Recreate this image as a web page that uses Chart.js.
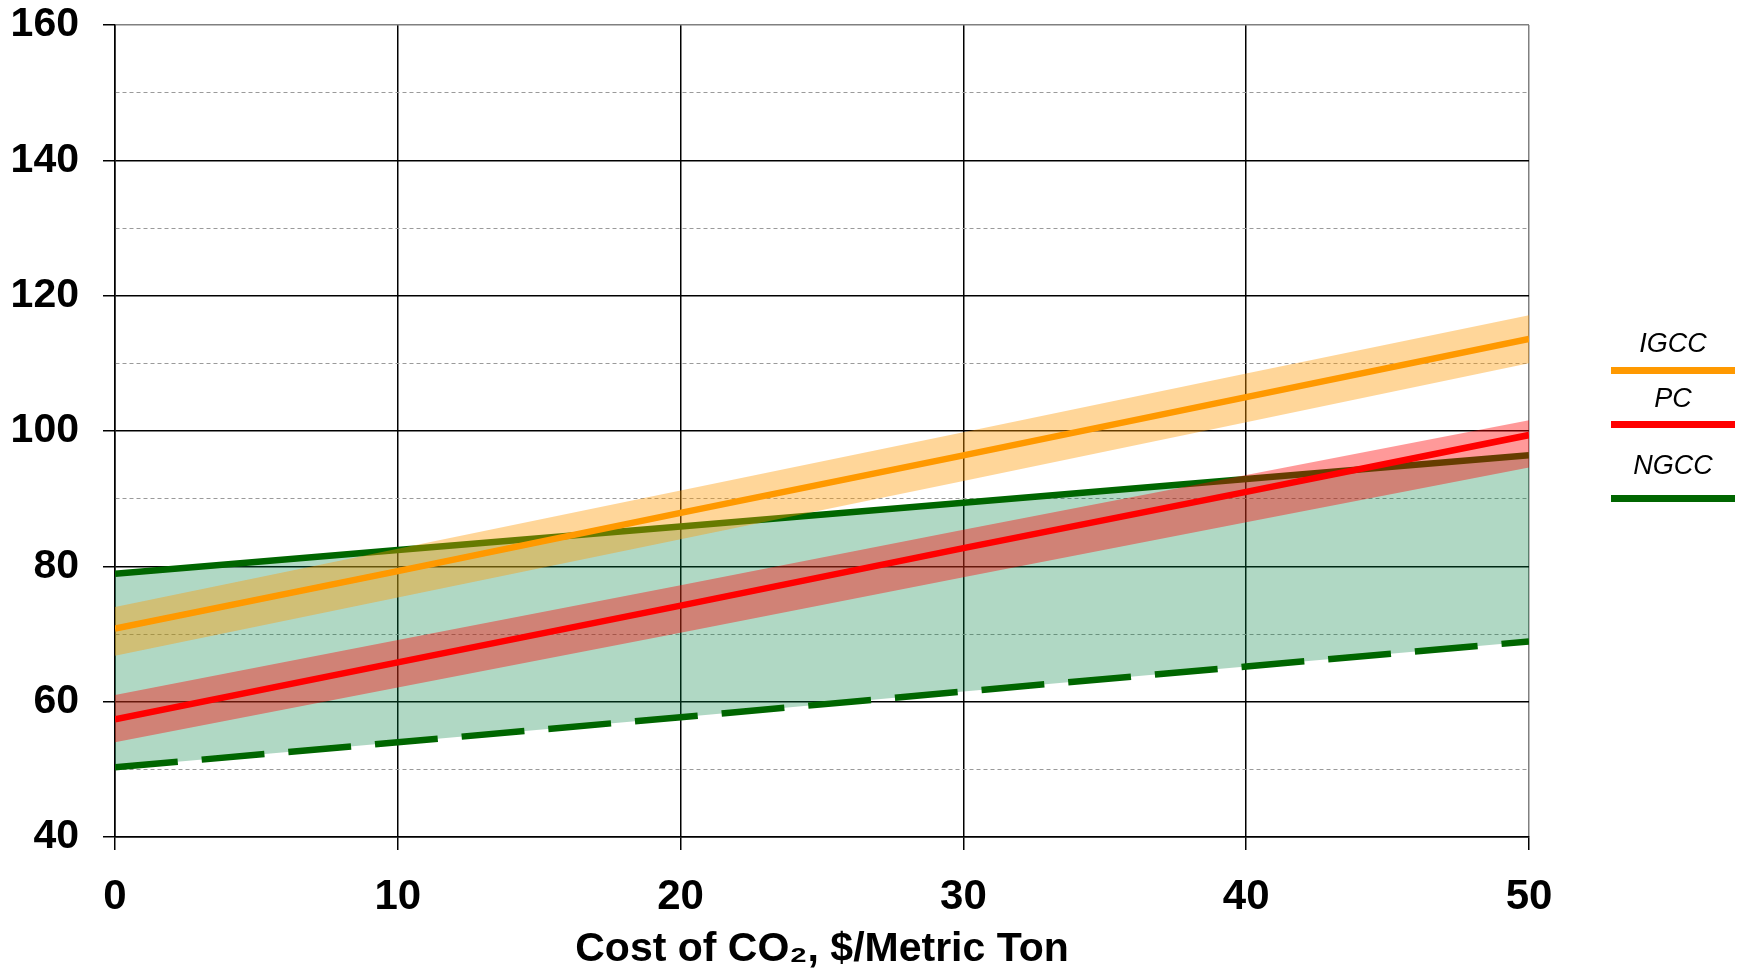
<!DOCTYPE html>
<html>
<head>
<meta charset="utf-8">
<title>Cost of CO2</title>
<script src="https://cdn.jsdelivr.net/npm/chart.js@4.4.0/dist/chart.umd.min.js"></script>
<style>
    html, body { margin: 0; padding: 0; background: #fff; }
    #wrap { position: relative; width: 1743px; height: 972px; }
    #legend { position: absolute; left: 1611px; top: 0; width: 124px;
        font-family: "Liberation Sans", Arial, sans-serif; font-style: italic; font-size: 27px; color: #000; }
    #legend .label { position: absolute; left: 0; width: 124px; text-align: center; line-height: 30px; }
    #legend .swatch { position: absolute; left: 0; width: 124px; height: 7px; }
</style>
</head>
<body>
<div id="wrap">
    <canvas id="chart" width="1743" height="972"></canvas>
    <div id="legend"></div>
</div>
<script>
// x: cost of CO2 ($/metric ton)
const costCO2 = [0, 10, 20, 30, 40, 50];

// central lines
const igcc = [70.8, 79.3, 87.9, 96.4, 105.0, 113.6];
const pc = [57.4, 65.8, 74.2, 82.7, 91.0, 99.4];

// uncertainty bands
const igccHigh = [74.0, 82.6, 91.2, 99.8, 108.5, 117.1];
const igccLow = [66.8, 75.4, 84.0, 92.6, 101.3, 110.0];
const pcHigh = [61.0, 69.1, 77.2, 85.4, 93.5, 101.6];
const pcLow = [54.0, 62.1, 70.2, 78.4, 86.5, 94.6];

// NGCC range (solid = high, dashed = low)
const ngccHigh = [78.9, 82.4, 85.9, 89.4, 92.9, 96.4];
const ngccLow = [50.3, 54.0, 57.7, 61.5, 65.2, 68.9];

const yTicks = [40, 60, 80, 100, 120, 140, 160];
const legendNames = ["IGCC", "PC", "NGCC"];
const legendColors = ["#ff9900", "#ff0000", "#006600"];

const toPoints = (ys) => ys.map((y, i) => ({ x: costCO2[i], y: y }));
const isMajor = (c) => c.tick && yTicks.includes(c.tick.value);

const band = (data, fillTo, color, order) => ({
    data: toPoints(data),
    borderWidth: 0,
    borderColor: "transparent",
    backgroundColor: color,
    fill: fillTo,
    pointRadius: 0,
    order: order,
});

const line = (data, color, order, dash) => ({
    data: toPoints(data),
    borderColor: color,
    borderWidth: 6.5,
    borderDash: dash || [],
    fill: false,
    pointRadius: 0,
    tension: 0,
    order: order,
});

const ngccTop = line(ngccHigh, "#006600", 10);
ngccTop.fill = 1;
ngccTop.backgroundColor = "rgba(0, 128, 64, 0.31)";

const chart = new Chart(document.getElementById("chart"), {
    type: "line",
    data: {
        datasets: [
            ngccTop,                                              // 0
            line(ngccLow, "#006600", 9, [63, 24]),                // 1
            band(igccHigh, 3, "rgba(255, 153, 0, 0.4)", 8),       // 2
            band(igccLow, false, "transparent", 8),               // 3
            band(pcHigh, 5, "rgba(255, 0, 0, 0.4)", 7),           // 4
            band(pcLow, false, "transparent", 7),                 // 5
            line(igcc, "#ff9900", 2),                             // 6
            line(pc, "#ff0000", 1),                               // 7
        ],
    },
    options: {
        responsive: false,
        animation: false,
        layout: { padding: { top: 25, right: 214, bottom: 0, left: 0 } },
        plugins: {
            legend: { display: false },
            tooltip: { enabled: false },
        },
        scales: {
            x: {
                type: "linear",
                min: 0,
                max: 50,
                afterFit: (scale) => { scale.height = 135; },
                ticks: {
                    stepSize: 10,
                    maxRotation: 0,
                    padding: 22,
                    color: "#000",
                    font: { family: "Liberation Sans", weight: "bold", size: 42 },
                },
                grid: {
                    color: (c) => c.tick && c.tick.value === 50 ? "#808080" : "#000",
                    lineWidth: 1.5,
                    tickLength: 13,
                    tickColor: "#000",
                },
                border: { color: "#000", width: 1.5 },
                title: {
                    display: true,
                    text: "Cost of CO₂, $/Metric Ton",
                    color: "#000",
                    font: { family: "Liberation Sans", weight: "bold", size: 41 },
                    padding: { top: 0, bottom: -2 },
                },
            },
            y: {
                min: 40,
                max: 160,
                afterFit: (scale) => {
                    scale.width = 115;
                    // plot top is set by layout padding only
                    scale.paddingTop = 0;
                    scale.paddingBottom = 0;
                },
                ticks: {
                    stepSize: 10,
                    autoSkip: false,
                    padding: 24,
                    color: "#000",
                    font: { family: "Liberation Sans", weight: "bold", size: 41 },
                    callback: (v) => yTicks.includes(v) ? v : "",
                },
                grid: {
                    color: (c) => {
                        if (c.tick && c.tick.value === 160) return "#808080";
                        return isMajor(c) ? "#000" : "#9a9a9a";
                    },
                    lineWidth: (c) => isMajor(c) ? 1.5 : 1,
                    tickLength: 12,
                    tickColor: (c) => isMajor(c) ? "#000" : "transparent",
                },
                border: {
                    color: "#000",
                    width: 1.5,
                    dash: (c) => c.tick && !yTicks.includes(c.tick.value) ? [4, 3] : [],
                },
            },
        },
    },
});

// legend: text above a thick line, on the right
const legendTops = [[328, 367], [383, 421], [450, 495]];
const legendEl = document.getElementById("legend");
legendNames.forEach((name, i) => {
    const label = document.createElement("div");
    label.className = "label";
    label.style.top = legendTops[i][0] + "px";
    label.textContent = name;
    const swatch = document.createElement("div");
    swatch.className = "swatch";
    swatch.style.top = legendTops[i][1] + "px";
    swatch.style.background = legendColors[i];
    legendEl.appendChild(label);
    legendEl.appendChild(swatch);
});
</script>
</body>
</html>
